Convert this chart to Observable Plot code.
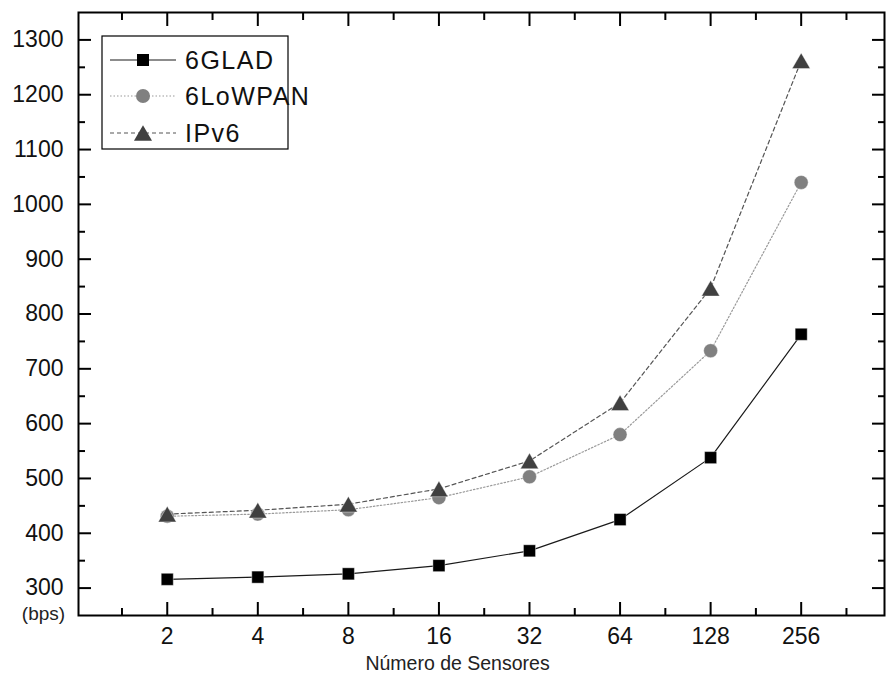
<!DOCTYPE html>
<html>
<head>
<meta charset="utf-8">
<script src="https://cdn.jsdelivr.net/npm/d3@7"></script>
<script src="https://cdn.jsdelivr.net/npm/@observablehq/plot@0.6"></script>
<style>
  html, body { margin: 0; padding: 0; background: #fff; }
  #wrap { position: relative; width: 886px; height: 675px; font-family: "Liberation Sans", Arial, sans-serif; }
  #legend { position: absolute; left: 0; top: 0; }
</style>
</head>
<body>
<div id="wrap"></div>
<script>
// ---- data ----
const sensors = [2, 4, 8, 16, 32, 64, 128, 256];
const glad    = [316, 320, 326, 341, 368, 425, 538, 763];
const lowpan  = [431, 435, 443, 465, 503, 580, 733, 1040];
const ipv6    = [435, 442, 453, 481, 532, 638, 847, 1262];
const seriesNames = ["6GLAD", "6LoWPAN", "IPv6"];
const yTicks = [300, 400, 500, 600, 700, 800, 900, 1000, 1100, 1200, 1300];
const yMinor = [350, 450, 550, 650, 750, 850, 950, 1050, 1150, 1250];
const xMinorExp = [0.5, 1.5, 2.5, 3.5, 4.5, 5.5, 6.5, 7.5, 8.5];
const xLabel = "Número de Sensores";
const yUnit = "(bps)";

// ---- build tables ----
const rows = (vals, name) => sensors.map((s, i) => ({sensors: s, value: vals[i], series: name}));
const dGlad = rows(glad, seriesNames[0]);
const dLow = rows(lowpan, seriesNames[1]);
const dIp = rows(ipv6, seriesNames[2]);
const xMinor = xMinorExp.map(e => Math.pow(2, e));

const triUp = {
  draw(ctx, size) {
    const a = Math.sqrt(size * 4 / Math.sqrt(3));
    const h = a * Math.sqrt(3) / 2;
    ctx.moveTo(0, -h / 2);
    ctx.lineTo(a / 2, h / 2);
    ctx.lineTo(-a / 2, h / 2);
    ctx.closePath();
  }
};

const styles = {
  [seriesNames[0]]: {stroke: "#1a1a1a", dash: null, width: 1.2, fill: "#000", symbol: "square", r: 6.8},
  [seriesNames[1]]: {stroke: "#9a9a9a", dash: "1.5,2", width: 1.2, fill: "#808080", symbol: "circle", r: 7},
  [seriesNames[2]]: {stroke: "#555", dash: "4,3", width: 1.2, fill: "#404040", symbol: triUp, r: 6.7}
};

const fontFam = '"Liberation Sans", Arial, sans-serif';
const noLabel = () => "";

const chart = Plot.plot({
  width: 886,
  height: 675,
  marginLeft: 78,
  marginRight: 2,
  marginTop: 12,
  marginBottom: 60,
  style: {fontFamily: fontFam, fontSize: "23px", color: "#000", background: "#fff"},
  x: {type: "log", base: 2, domain: [Math.pow(2, 0.02), Math.pow(2, 8.92)]},
  y: {domain: [250, 1350]},
  marks: [
    // labels
    Plot.axisY(yTicks, {anchor: "left", tickSize: 0, tickPadding: 15, label: null, fontSize: 23, tickFormat: d => String(d), fill: "#111"}),
    Plot.axisX(sensors, {anchor: "bottom", tickSize: 0, tickPadding: 12, label: null, tickFormat: d => String(d), fontSize: 23, fill: "#111"}),
    // inward ticks
    Plot.axisY(yTicks, {anchor: "left", tickSize: -13, tickFormat: noLabel, label: null, strokeWidth: 2}),
    Plot.axisY(yMinor, {anchor: "left", tickSize: -7, tickFormat: noLabel, label: null, strokeWidth: 2}),
    Plot.axisY(yTicks, {anchor: "right", tickSize: -13, tickFormat: noLabel, label: null, strokeWidth: 2}),
    Plot.axisY(yMinor, {anchor: "right", tickSize: -7, tickFormat: noLabel, label: null, strokeWidth: 2}),
    Plot.axisX(sensors, {anchor: "bottom", tickSize: -13, tickFormat: noLabel, label: null, strokeWidth: 2}),
    Plot.axisX(xMinor, {anchor: "bottom", tickSize: -7, tickFormat: noLabel, label: null, strokeWidth: 2}),
    Plot.axisX(sensors, {anchor: "top", tickSize: -13, tickFormat: noLabel, label: null, strokeWidth: 2}),
    Plot.axisX(xMinor, {anchor: "top", tickSize: -7, tickFormat: noLabel, label: null, strokeWidth: 2}),
    Plot.frame({stroke: "#000", strokeWidth: 2}),
    // lines
    ...[dGlad, dLow, dIp].map(d => {
      const s = styles[d[0].series];
      return Plot.line(d, {x: "sensors", y: "value", stroke: s.stroke, strokeWidth: s.width, strokeDasharray: s.dash});
    }),
    // markers
    ...[dLow, dIp, dGlad].map(d => {
      const s = styles[d[0].series];
      return Plot.dot(d, {x: "sensors", y: "value", symbol: s.symbol, r: s.r, fill: s.fill, stroke: "#fff", strokeWidth: 0.4});
    }),
    // axis titles
    Plot.text([xLabel], {frameAnchor: "bottom", lineAnchor: "middle", textAnchor: "middle", dx: -24, dy: 48, fontSize: 19.5, text: d => d, fill: "#222"}),
    Plot.text([yUnit], {frameAnchor: "bottom-left", lineAnchor: "middle", textAnchor: "middle", dx: -35, dy: -2, fontSize: 19, text: d => d, fill: "#222"})
  ]
});

const wrap = document.getElementById("wrap");
wrap.appendChild(chart);

// ---- legend overlay (inside plot frame) ----
const lg = d3.select(wrap).append("svg").attr("id", "legend").attr("width", 886).attr("height", 675)
  .style("pointer-events", "none");
const box = {x: 102, y: 36, w: 186, h: 113};
lg.append("rect").attr("x", box.x).attr("y", box.y).attr("width", box.w).attr("height", box.h)
  .attr("fill", "#fff").attr("stroke", "#000").attr("stroke-width", 1.2);
const rowY = [60, 96, 133];
seriesNames.forEach((name, i) => {
  const s = styles[name];
  const g = lg.append("g");
  g.append("line").attr("x1", 110).attr("x2", 176).attr("y1", rowY[i]).attr("y2", rowY[i])
    .attr("stroke", s.stroke).attr("stroke-width", s.width).attr("stroke-dasharray", s.dash);
  const sym = typeof s.symbol === "string"
    ? (s.symbol === "square" ? d3.symbolSquare : d3.symbolCircle)
    : s.symbol;
  g.append("path").attr("d", d3.symbol(sym, Math.PI * s.r * s.r)())
    .attr("transform", `translate(143,${rowY[i]})`).attr("fill", s.fill);
  g.append("text").attr("x", 185).attr("y", rowY[i]).attr("dy", "0.36em")
    .attr("font-family", fontFam).attr("font-size", 25).attr("letter-spacing", 1.5)
    .attr("fill", "#111").text(name);
});
</script>
</body>
</html>
